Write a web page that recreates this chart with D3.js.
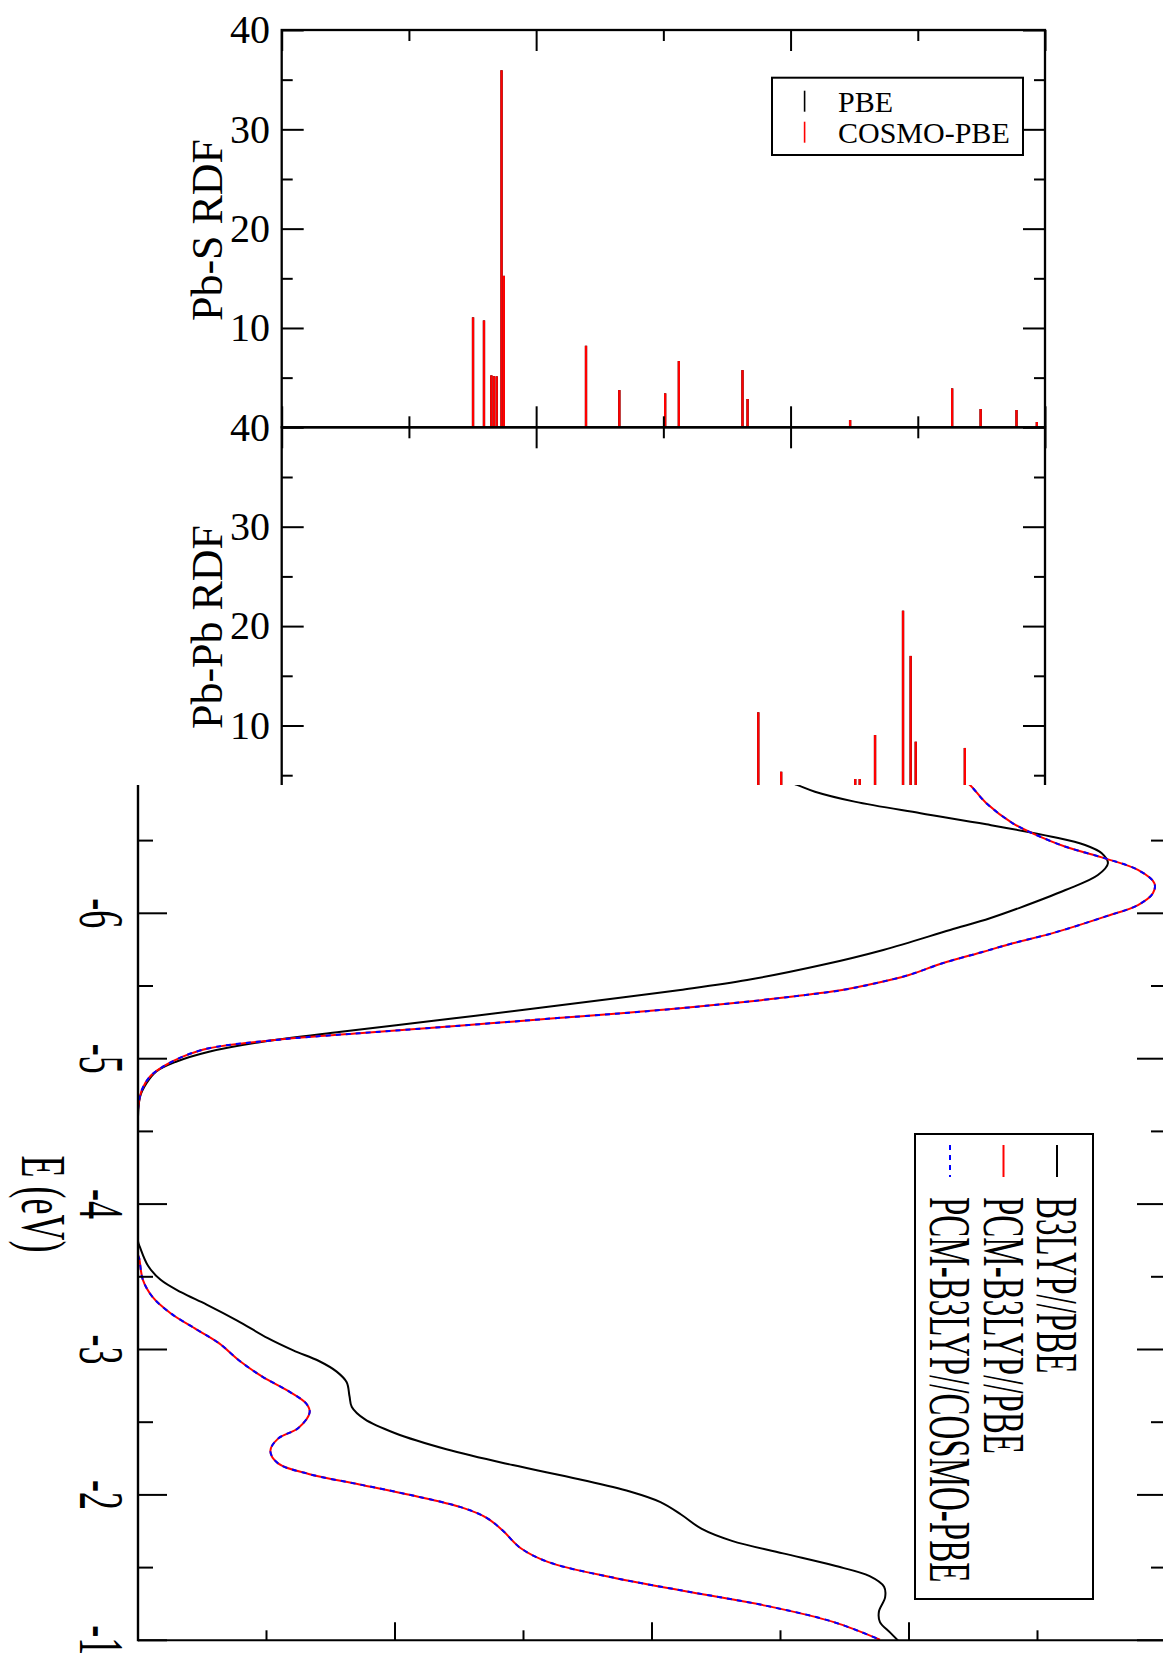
<!DOCTYPE html>
<html>
<head>
<meta charset="utf-8">
<script src="https://cdn.jsdelivr.net/npm/d3@7"></script>
<style>
  html, body { margin: 0; padding: 0; background: #fff; }
  svg { display: block; }
  svg text { font-family: "Liberation Serif", "Times New Roman", serif !important; fill: #000; }
</style>
</head>
<body>
<script>
// ---- Radial distribution functions (r in Å, g(r)) ----
const pbsR      = [2.752, 2.795, 2.824, 2.834, 2.845, 2.864, 2.873, 3.196, 3.327, 3.507, 3.561, 3.811, 3.831, 4.234, 4.635, 4.747, 4.888, 4.968];
const pbsCosmo  = [11.07, 10.76, 5.23, 5.16, 5.13, 35.95, 15.25, 8.21, 3.75, 3.42, 6.67, 5.76, 2.85, 0.73, 3.92, 1.84, 1.74, 0.53];
const pbsPbe    = [11.07, 10.76, 5.23, 5.16, 5.13, 35.95, 15.25, 8.21, 3.75, 3.42, 6.67, 5.76, 2.85, 0.73, 3.92, 1.84, 1.74, 0.53];

const pbpbR     = [3.873, 3.963, 4.254, 4.272, 4.332, 4.442, 4.472, 4.492, 4.685];
const pbpbCosmo = [11.33, 5.35, 4.62, 4.62, 9.04, 21.55, 17.0, 8.37, 7.74];
const pbpbPbe   = [11.33, 5.35, 4.62, 4.62, 9.04, 21.55, 17.0, 8.37, 7.74];

const rdfMajorTicks = [10, 20, 30, 40];
const rdfMinorTicks = [5, 15, 25, 35];
const rMajorTicks = [2, 3, 4, 5];
const rMinorTicks = [2.5, 3.5, 4.5];
const rdfLegend = ["PBE", "COSMO-PBE"];

// ---- Density of states vs. energy (eV) ----
const b3lypE = [-6.93, -6.883, -6.836, -6.768, -6.688, -6.612, -6.527, -6.470, -6.413, -6.344, -6.263, -6.160, -6.036, -5.966, -5.885, -5.748, -5.644, -5.541, -5.473, -5.415, -5.335, -5.261, -5.186, -5.117, -5.048, -4.979, -4.911, -4.831, -4.739, -4.601, -4.2, -3.746, -3.697, -3.576, -3.479, -3.394, -3.309, -3.199, -3.078, -2.994, -2.921, -2.848, -2.775, -2.678, -2.605, -2.521, -2.424, -2.314, -2.205, -2.108, -2.023, -1.950, -1.865, -1.768, -1.684, -1.598, -1.514, -1.441, -1.368, -1.295, -1.198, -1.125, -1.053, -0.992];
const b3lypDos = [24.9, 25.64, 26.34, 27.88, 30.45, 33.01, 35.56, 36.85, 37.50, 37.74, 37.35, 36.09, 34.28, 33.15, 31.6, 29.0, 26.6, 23.7, 21.1, 18.6, 14.95, 11.5, 7.9, 4.85, 2.76, 1.48, 0.70, 0.33, 0.08, 0.0, 0.0, 0.0, 0.09, 0.39, 0.88, 1.67, 2.67, 3.86, 5.05, 6.04, 7.04, 7.73, 8.12, 8.23, 8.32, 8.82, 10.01, 12.00, 14.58, 17.16, 19.14, 20.33, 21.13, 21.92, 23.11, 25.10, 27.08, 28.47, 29.03, 29.07, 28.83, 28.87, 29.27, 29.61];

const pcmE = [-6.95, -6.883, -6.757, -6.619, -6.550, -6.458, -6.378, -6.298, -6.206, -6.138, -6.057, -5.977, -5.862, -5.794, -5.736, -5.656, -5.576, -5.519, -5.472, -5.426, -5.381, -5.347, -5.312, -5.278, -5.243, -5.209, -5.175, -5.133, -5.072, -5.014, -4.945, -4.876, -4.785, -4.647, -4.2, -3.652, -3.625, -3.479, -3.358, -3.248, -3.139, -3.042, -2.921, -2.812, -2.715, -2.629, -2.569, -2.460, -2.387, -2.302, -2.217, -2.144, -2.072, -1.999, -1.914, -1.841, -1.757, -1.635, -1.538, -1.429, -1.331, -1.235, -1.125, -1.004];
const pcmDos = [31.9, 32.37, 33.01, 34.04, 34.81, 36.09, 37.63, 38.91, 39.55, 39.49, 38.91, 37.63, 35.56, 34.04, 32.9, 31.3, 30.0, 28.7, 27.4, 25.4, 23.1, 21.1, 18.8, 16.2, 13.7, 11.2, 8.6, 5.6, 2.76, 1.74, 0.97, 0.46, 0.15, 0.0, 0.0, 0.0, 0.05, 0.19, 0.58, 1.28, 2.27, 3.16, 3.96, 4.85, 5.84, 6.54, 6.68, 6.24, 5.45, 5.15, 5.45, 6.64, 8.62, 10.61, 12.59, 13.58, 14.18, 14.88, 15.97, 18.55, 21.53, 24.51, 27.08, 28.87];
const pcmCosmoE = pcmE;
const pcmCosmoDos = [31.9, 32.37, 33.01, 34.04, 34.81, 36.09, 37.63, 38.91, 39.55, 39.49, 38.91, 37.63, 35.56, 34.04, 32.9, 31.3, 30.0, 28.7, 27.4, 25.4, 23.1, 21.1, 18.8, 16.2, 13.7, 11.2, 8.6, 5.6, 2.76, 1.74, 0.97, 0.46, 0.15, 0.0, 0.0, 0.0, 0.05, 0.19, 0.58, 1.28, 2.27, 3.16, 3.96, 4.85, 5.84, 6.54, 6.68, 6.24, 5.45, 5.15, 5.45, 6.64, 8.62, 10.61, 12.59, 13.58, 14.18, 14.88, 15.97, 18.55, 21.53, 24.51, 27.08, 28.87];

const eMajorTicks = [-6, -5, -4, -3, -2, -1];
const eMinorTicks = [-6.5, -5.5, -4.5, -3.5, -2.5, -1.5];
const dosMajorTicks = [10, 20, 30];
const dosMinorTicks = [5, 15, 25, 35];
const dosLegend = ["B3LYP//PBE", "PCM-B3LYP//PBE", "PCM-B3LYP//COSMO-PBE"];

const W = 1163, H = 1653;
const FONT = "'Liberation Serif', 'Times New Roman', serif";
const svg = d3.select("body").append("svg").attr("width", W).attr("height", H)
  .style("font-family", FONT);

// ---------- RDF panels ----------
const rdfL = 281.7, rdfR = 1045, rdfTop = 30, rdfMid = 427.3, rdfBot = 824.9;
const xR = d3.scaleLinear().domain([2, 5]).range([rdfL, rdfR]);
const ySup = d3.scaleLinear().domain([0, 40]).range([rdfMid, rdfTop]);
const yLow = d3.scaleLinear().domain([0, 40]).range([rdfBot, rdfMid]);

function styleAxis(g) {
  g.attr("font-family", null).attr("font-size", null);
  g.select(".domain").remove();
  g.selectAll(".tick line").attr("stroke", "#000").attr("stroke-width", 2);
  g.selectAll(".tick text").style("font-family", FONT).style("font-size", "40px").attr("fill", "#000");
}

function rdfPanel(y, bars, barsRef, rArr, label, labelY, tickLabels) {
  const g = svg.append("g");
  // bars: reference (black) underneath, solvated (red) on top
  [[barsRef, "#000"], [bars, "#f00"]].forEach(([vals, col]) => {
    g.append("g").selectAll("line").data(d3.zip(rArr, vals)).join("line")
      .attr("x1", d => xR(d[0])).attr("x2", d => xR(d[0]))
      .attr("y1", y(0)).attr("y2", d => y(d[1]))
      .attr("stroke", col).attr("stroke-width", 2.3);
  });
  // y ticks, left (labelled) and right
  g.append("g").attr("transform", `translate(${rdfL},0)`)
    .call(d3.axisLeft(y).tickValues(tickLabels).tickSize(-22).tickPadding(11.7).tickFormat(d3.format("d")))
    .call(styleAxis);
  g.append("g").attr("transform", `translate(${rdfL},0)`)
    .call(d3.axisLeft(y).tickValues(rdfMinorTicks).tickSize(-11).tickFormat(""))
    .call(styleAxis);
  g.append("g").attr("transform", `translate(${rdfR},0)`)
    .call(d3.axisRight(y).tickValues(rdfMajorTicks).tickSize(-22).tickFormat(""))
    .call(styleAxis);
  g.append("g").attr("transform", `translate(${rdfR},0)`)
    .call(d3.axisRight(y).tickValues(rdfMinorTicks).tickSize(-11).tickFormat(""))
    .call(styleAxis);
  // x ticks on top and bottom edges, pointing inward
  const top = y.range()[1], bot = y.range()[0];
  g.append("g").attr("transform", `translate(0,${top})`)
    .call(d3.axisTop(xR).tickValues(rMajorTicks).tickSize(-21).tickFormat(""))
    .call(styleAxis);
  g.append("g").attr("transform", `translate(0,${top})`)
    .call(d3.axisTop(xR).tickValues(rMinorTicks).tickSize(-11).tickFormat(""))
    .call(styleAxis);
  g.append("g").attr("transform", `translate(0,${bot})`)
    .call(d3.axisBottom(xR).tickValues(rMajorTicks).tickSize(-21).tickFormat(""))
    .call(styleAxis);
  g.append("g").attr("transform", `translate(0,${bot})`)
    .call(d3.axisBottom(xR).tickValues(rMinorTicks).tickSize(-11).tickFormat(""))
    .call(styleAxis);
  // frame
  g.append("rect").attr("x", rdfL).attr("y", top).attr("width", rdfR - rdfL).attr("height", bot - top)
    .attr("fill", "none").attr("stroke", "#000").attr("stroke-width", 2.3);
  // axis title
  g.append("text").attr("transform", `translate(222,${labelY}) rotate(-90)`)
    .attr("text-anchor", "middle").style("font-size", "44px").text(label);
}

rdfPanel(ySup, pbsCosmo, pbsPbe, pbsR, "Pb-S RDF", 230, [10, 20, 30, 40]);
rdfPanel(yLow, pbpbCosmo, pbpbPbe, pbpbR, "Pb-Pb RDF", 627, [10, 20, 30, 40]);

// RDF legend
const lg = svg.append("g");
lg.append("rect").attr("x", 772).attr("y", 77.7).attr("width", 251).attr("height", 77.3)
  .attr("fill", "#fff").attr("stroke", "#000").attr("stroke-width", 2);
rdfLegend.forEach((name, i) => {
  const base = 111.7 + i * 31;
  lg.append("line").attr("x1", 804.6).attr("x2", 804.6).attr("y1", base - 21).attr("y2", base)
    .attr("stroke", i === 0 ? "#000" : "#f00").attr("stroke-width", 1.6);
  lg.append("text").attr("x", 838).attr("y", base).style("font-size", "30px").text(name);
});

// ---------- DOS panel (rotated: energy runs downward) ----------
const dosTop = 785, dosL = 138, dosR = 1166, dosBot = 1640.3;
svg.append("rect").attr("x", 0).attr("y", dosTop).attr("width", W).attr("height", H - dosTop).attr("fill", "#fff");

const yE = d3.scaleLinear().domain([-7, -1]).range([767.9, dosBot]);
const xD = d3.scaleLinear().domain([0, 40]).range([dosL, dosR]);

const clip = svg.append("defs").append("clipPath").attr("id", "dosclip");
clip.append("rect").attr("x", dosL).attr("y", dosTop).attr("width", dosR - dosL).attr("height", dosBot - dosTop);

const line = d3.line().x(d => xD(Math.max(0, d[1]))).y(d => yE(d[0])).curve(d3.curveCatmullRom.alpha(0.5));
const curves = svg.append("g").attr("clip-path", "url(#dosclip)");
curves.append("path").attr("d", line(d3.zip(b3lypE, b3lypDos)))
  .attr("fill", "none").attr("stroke", "#000").attr("stroke-width", 2);
curves.append("path").attr("d", line(d3.zip(pcmE, pcmDos)))
  .attr("fill", "none").attr("stroke", "#f00").attr("stroke-width", 2);
curves.append("path").attr("d", line(d3.zip(pcmCosmoE, pcmCosmoDos)))
  .attr("fill", "none").attr("stroke", "#00f").attr("stroke-width", 2).attr("stroke-dasharray", "5,5");

const ax = svg.append("g").attr("stroke", "#000").attr("stroke-width", 2);
// energy ticks (left edge and right edge, inward)
ax.selectAll(".eMaj").data(eMajorTicks).join("line")
  .attr("x1", dosL).attr("x2", dosL + 29).attr("y1", d => yE(d)).attr("y2", d => yE(d));
ax.selectAll(".eMin").data(eMinorTicks).join("line")
  .attr("x1", dosL).attr("x2", dosL + 15).attr("y1", d => yE(d)).attr("y2", d => yE(d));
ax.selectAll(".eMajR").data(eMajorTicks).join("line")
  .attr("x1", dosR).attr("x2", dosR - 29).attr("y1", d => yE(d)).attr("y2", d => yE(d));
ax.selectAll(".eMinR").data(eMinorTicks).join("line")
  .attr("x1", dosR).attr("x2", dosR - 15).attr("y1", d => yE(d)).attr("y2", d => yE(d));
// DOS ticks on bottom edge
ax.selectAll(".dMaj").data(dosMajorTicks).join("line")
  .attr("x1", d => xD(d)).attr("x2", d => xD(d)).attr("y1", dosBot).attr("y2", dosBot - 18);
ax.selectAll(".dMin").data(dosMinorTicks).join("line")
  .attr("x1", d => xD(d)).attr("x2", d => xD(d)).attr("y1", dosBot).attr("y2", dosBot - 10);
// frame edges
ax.append("line").attr("x1", dosL).attr("x2", dosL).attr("y1", dosTop).attr("y2", dosBot + 1).attr("stroke-width", 2.4);
ax.append("line").attr("x1", dosL).attr("x2", dosR).attr("y1", dosBot).attr("y2", dosBot);
ax.append("line").attr("x1", dosR).attr("x2", dosR).attr("y1", dosTop).attr("y2", dosBot);

// energy tick labels, rotated with the panel
const stretch = 1.75;
svg.append("g").selectAll("text").data(eMajorTicks).join("text")
  .attr("transform", d => `translate(80,${yE(d)}) rotate(90) scale(1,${stretch})`)
  .attr("text-anchor", "middle").style("font-size", "36px").text(d => d3.format("d")(d).replace("−", "-"));

svg.append("text").attr("transform", `translate(21.7,1204) rotate(90) scale(1,${stretch})`)
  .attr("text-anchor", "middle").style("font-size", "36px").text("E (eV)");

// DOS legend
const dl = svg.append("g");
dl.append("rect").attr("x", 915).attr("y", 1134).attr("width", 178).attr("height", 465)
  .attr("fill", "#fff").attr("stroke", "#000").attr("stroke-width", 2);
const legCols = ["#000", "#f00", "#00f"];
dosLegend.forEach((name, i) => {
  const base = 1037 - i * 53.5;
  const ln = dl.append("line").attr("x1", base + 20).attr("x2", base + 20).attr("y1", 1145).attr("y2", 1177)
    .attr("stroke", legCols[i]).attr("stroke-width", 2);
  if (i === 2) ln.attr("stroke-dasharray", "5,5");
  dl.append("text").attr("transform", `translate(${base},1197) rotate(90) scale(1,1.8)`)
    .style("font-size", "33px").text(name);
});
</script>
</body>
</html>
